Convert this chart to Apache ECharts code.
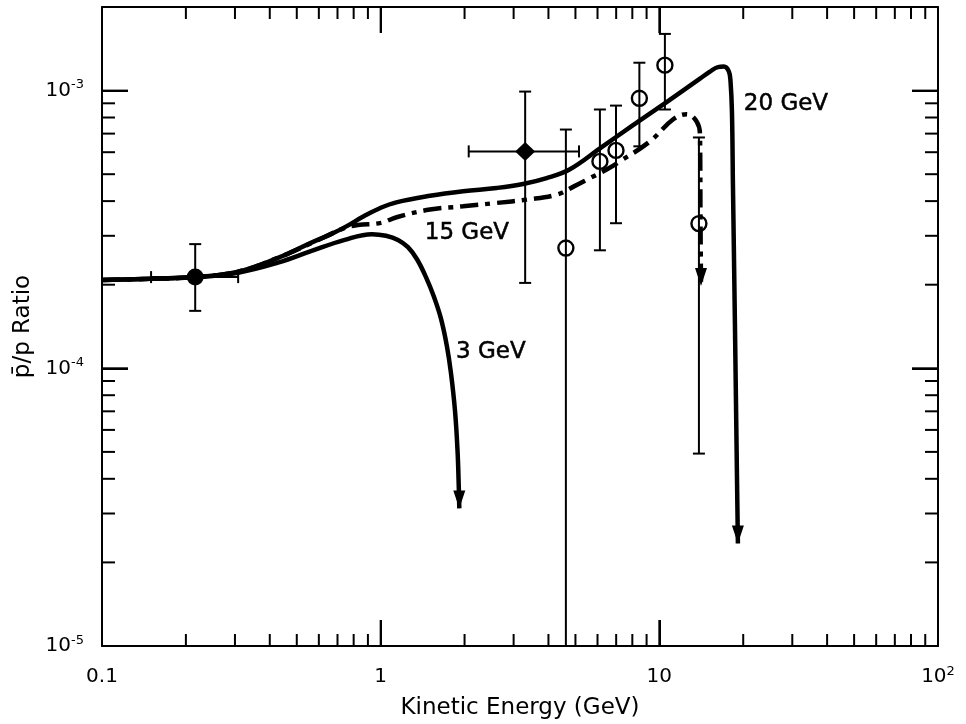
<!DOCTYPE html>
<html lang="en">
<head>
<meta charset="UTF-8">
<title>pbar/p ratio</title>
<script src="https://cdn.jsdelivr.net/npm/echarts@6.0.0/dist/echarts.min.js"></script>
<style>
  html, body { margin: 0; padding: 0; background: #fff; }
  #main { width: 966px; height: 724px; }
</style>
</head>
<body>
<div id="main"></div>
<script>
// axis range
const xMin = 0.1, xMax = 100;
const yMin = 1e-5, yMax = 2e-3;

// model curves: kinetic energy (GeV) and pbar/p ratio
const e20 = [0.1, 0.149, 0.216, 0.308, 0.428, 0.562, 0.658, 0.756, 0.866, 0.993, 1.138, 1.503, 1.977, 2.608, 3.245, 3.94, 4.76, 6.12, 8.00, 10.62, 13.99, 15.19, 16.23, 17.05, 17.77, 18.01, 18.22, 18.37, 18.67, 18.98, 19.14];
const r20 = [2.08e-4, 2.10e-4, 2.13e-4, 2.23e-4, 2.50e-4, 2.83e-4, 3.03e-4, 3.25e-4, 3.52e-4, 3.77e-4, 3.96e-4, 4.18e-4, 4.34e-4, 4.46e-4, 4.61e-4, 4.84e-4, 5.20e-4, 6.19e-4, 7.48e-4, 9.09e-4, 1.104e-3, 1.17e-3, 1.215e-3, 1.22e-3, 1.17e-3, 1.077e-3, 8.41e-4, 4.60e-4, 1.48e-4, 4.29e-5, 2.34e-5];

const e15 = [0.1, 0.149, 0.216, 0.308, 0.428, 0.562, 0.743, 0.829, 1.002, 1.141, 1.503, 1.974, 2.608, 3.34, 4.28, 4.94, 5.64, 6.47, 7.22, 9.25, 11.19, 12.53, 13.61, 13.99, 14.05, 14.11];
const r15 = [2.08e-4, 2.10e-4, 2.13e-4, 2.23e-4, 2.50e-4, 2.82e-4, 3.20e-4, 3.28e-4, 3.34e-4, 3.50e-4, 3.73e-4, 3.83e-4, 3.94e-4, 4.05e-4, 4.22e-4, 4.52e-4, 4.84e-4, 5.20e-4, 5.56e-4, 6.56e-4, 7.87e-4, 8.22e-4, 7.74e-4, 6.95e-4, 3.48e-4, 1.98e-4];

const e3 = [0.1, 0.149, 0.216, 0.308, 0.428, 0.562, 0.743, 0.931, 1.045, 1.154, 1.253, 1.350, 1.454, 1.553, 1.646, 1.729, 1.787, 1.848, 1.887, 1.906, 1.915];
const r3 = [2.08e-4, 2.10e-4, 2.13e-4, 2.21e-4, 2.40e-4, 2.64e-4, 2.90e-4, 3.04e-4, 3.00e-4, 2.90e-4, 2.73e-4, 2.47e-4, 2.13e-4, 1.81e-4, 1.51e-4, 1.20e-4, 9.63e-5, 7.04e-5, 5.06e-5, 3.79e-5, 3.13e-5];

// measurements
const ptKind = ['dot', 'diamond', 'ring', 'ring', 'ring', 'ring', 'ring', 'ring'];
const ptE   = [0.216, 3.30, 4.62, 6.12, 6.99, 8.48, 10.47, 13.87];
const ptR   = [2.13e-4, 6.04e-4, 2.71e-4, 5.56e-4, 6.09e-4, 9.38e-4, 1.235e-3, 3.32e-4];
const ptRLo = [1.61e-4, 2.03e-4, 1e-5, 2.66e-4, 3.33e-4, 6.30e-4, 8.55e-4, 4.93e-5];
const ptRHi = [2.80e-4, 9.92e-4, 7.24e-4, 8.55e-4, 8.83e-4, 1.26e-3, 1.60e-3, 6.78e-4];
const ptELo = [0.150, 2.07, null, null, null, null, null, null];
const ptEHi = [0.308, 5.15, null, null, null, null, null, null];

// curve labels
const labelText = ['20 GeV', '15 GeV', '3 GeV'];
const labelE = [20.1, 1.44, 1.863];
const labelR = [8.98e-4, 3.07e-4, 1.14e-4];

const FONT = 'DejaVu Sans';
const black = '#000';

// tick positions: decades get long ticks, 2..9 get short ones
const xMajor = [1, 10], yMajor = [1e-4, 1e-3];
const xMinor = [], yMinor = [];
for (let k = -1; k < 2; k++) for (let m = 2; m <= 9; m++) xMinor.push(+(m * Math.pow(10, k)).toPrecision(3));
for (let k = -5; k < -3; k++) for (let m = 2; m <= 9; m++) yMinor.push(+(m * Math.pow(10, k)).toPrecision(3));

function pow10Label(v, plainSmall) {
  const e = Math.round(Math.log10(v));
  if (Math.abs(v / Math.pow(10, e) - 1) > 1e-6) return '';
  if (plainSmall && e === -1) return '0.1';
  if (plainSmall && e === 0) return '1';
  if (plainSmall && e === 1) return '10';
  return '{b|10}{sup|' + e + '}';
}

const richLabel = {
  b: { fontSize: 20, lineHeight: 24, fontFamily: FONT, color: black },
  sup: { fontSize: 13, lineHeight: 24, verticalAlign: 'top', fontFamily: FONT, color: black }
};

function axisBase(type) {
  return {
    type: 'log', logBase: 10,
    min: type === 'x' ? xMin : yMin,
    max: type === 'x' ? xMax : yMax,
    splitLine: { show: false },
    axisLine: { show: true, lineStyle: { color: black, width: 2 } },
    axisTick: { show: true, inside: true, length: 26, lineStyle: { color: black, width: 2 } },
    minorTick: { show: false }
  };
}

// ticks drawn on both opposite sides of the frame
function frameTicks(isX, len) {
  return function (params, api) {
    const cs = params.coordSys;
    const v = api.value(isX ? 0 : 1);
    const p = api.coord(isX ? [v, 1e-4] : [1, v]);
    const st = { stroke: black, lineWidth: 2 };
    if (isX) {
      return { type: 'group', children: [
        { type: 'line', shape: { x1: p[0], y1: cs.y + cs.height, x2: p[0], y2: cs.y + cs.height - len }, style: st },
        { type: 'line', shape: { x1: p[0], y1: cs.y, x2: p[0], y2: cs.y + len }, style: st }
      ] };
    }
    return { type: 'group', children: [
      { type: 'line', shape: { x1: cs.x, y1: p[1], x2: cs.x + len, y2: p[1] }, style: st },
      { type: 'line', shape: { x1: cs.x + cs.width, y1: p[1], x2: cs.x + cs.width - len, y2: p[1] }, style: st }
    ] };
  };
}

function errorBars(params, api) {
  const x = api.value(0), y = api.value(1);
  const yLo = api.value(2), yHi = api.value(3);
  const xLo = api.value(4), xHi = api.value(5);
  const st = { stroke: black, lineWidth: 2 };
  const cap = 6;
  const a = api.coord([x, yLo]), b = api.coord([x, yHi]);
  const kids = [
    { type: 'line', shape: { x1: a[0], y1: a[1], x2: b[0], y2: b[1] }, style: st },
    { type: 'line', shape: { x1: a[0] - cap, y1: a[1], x2: a[0] + cap, y2: a[1] }, style: st },
    { type: 'line', shape: { x1: b[0] - cap, y1: b[1], x2: b[0] + cap, y2: b[1] }, style: st }
  ];
  if (!isNaN(xLo) && !isNaN(xHi)) {
    const c = api.coord([xLo, y]), d = api.coord([xHi, y]);
    kids.push({ type: 'line', shape: { x1: c[0], y1: c[1], x2: d[0], y2: d[1] }, style: st });
    kids.push({ type: 'line', shape: { x1: c[0], y1: c[1] - cap, x2: c[0], y2: c[1] + cap }, style: st });
    kids.push({ type: 'line', shape: { x1: d[0], y1: d[1] - cap, x2: d[0], y2: d[1] + cap }, style: st });
  }
  return { type: 'group', children: kids };
}

function curve(xs, ys, dashed) {
  return {
    type: 'line', silent: true, symbol: 'none', smooth: 0.4, z: 3,
    data: xs.map((x, i) => [x, ys[i]]),
    lineStyle: { color: black, width: 4.5, opacity: 1, type: dashed ? [18, 7, 5, 7] : 'solid', cap: 'butt' }
  };
}

function pick(kind) {
  const out = [];
  ptKind.forEach((k, i) => { if (k === kind) out.push([ptE[i], ptR[i]]); });
  return out;
}

const arrowTips = [
  [e20[e20.length - 1], r20[r20.length - 1]],
  [e15[e15.length - 1], r15[r15.length - 1]],
  [e3[e3.length - 1], r3[r3.length - 1]]
];

const nameStyle = { fontSize: 23, fontFamily: FONT, color: black };

const chart = echarts.init(document.getElementById('main'), null, { renderer: 'canvas' });
chart.setOption({
  animation: false,
  backgroundColor: '#fff',
  grid: { left: 102, right: 28, top: 7, bottom: 78, containLabel: false, outerBoundsMode: 'none' },
  xAxis: [
    Object.assign(axisBase('x'), {
      position: 'bottom',
      name: 'Kinetic Energy (GeV)', nameLocation: 'middle', nameGap: 51,
      nameTextStyle: nameStyle,
      axisLabel: { margin: 19, fontSize: 20, lineHeight: 24, fontFamily: FONT, color: black,
        formatter: v => pow10Label(v, true), rich: richLabel }
    }),
    Object.assign(axisBase('x'), { position: 'top', axisLabel: { show: false } })
  ],
  yAxis: [
    Object.assign(axisBase('y'), {
      position: 'left',
      name: 'p\u0304/p Ratio', nameLocation: 'middle', nameGap: 57, nameRotate: 90,
      nameTextStyle: nameStyle,
      axisLabel: { margin: 18, fontSize: 20, lineHeight: 24, fontFamily: FONT, color: black,
        formatter: v => pow10Label(v, false), rich: richLabel }
    }),
    Object.assign(axisBase('y'), { position: 'right', axisLabel: { show: false } })
  ],
  series: [
    { type: 'custom', silent: true, renderItem: frameTicks(true, 26), data: xMajor.map(v => [v, 1e-4]), z: 5 },
    { type: 'custom', silent: true, renderItem: frameTicks(false, 26), data: yMajor.map(v => [1, v]), z: 5 },
    { type: 'custom', silent: true, renderItem: frameTicks(true, 12), data: xMinor.map(v => [v, 1e-4]), z: 5 },
    { type: 'custom', silent: true, renderItem: frameTicks(false, 13), data: yMinor.map(v => [1, v]), z: 5 },
    curve(e20, r20, false),
    curve(e15, r15, true),
    curve(e3, r3, false),
    {
      type: 'scatter', silent: true, z: 4,
      data: arrowTips,
      symbol: 'path://M0,0 L10,0 L5,18 Z', symbolSize: [12, 18], symbolOffset: [0, -9],
      itemStyle: { color: black, opacity: 1 }
    },
    {
      type: 'custom', silent: true, z: 6, renderItem: errorBars,
      encode: { x: 0, y: 1 },
      data: ptE.map((e, i) => [e, ptR[i], ptRLo[i], ptRHi[i], ptELo[i], ptEHi[i]])
    },
    { type: 'scatter', silent: true, z: 7, data: pick('dot'), symbol: 'circle', symbolSize: 17,
      itemStyle: { color: black, opacity: 1 } },
    { type: 'scatter', silent: true, z: 7, data: pick('diamond'), symbol: 'diamond', symbolSize: [20, 19],
      itemStyle: { color: black, opacity: 1 } },
    { type: 'scatter', silent: true, z: 7, data: pick('ring'), symbol: 'circle', symbolSize: 15,
      itemStyle: { color: 'rgba(0,0,0,0)', borderColor: black, borderWidth: 2.4, opacity: 1 } },
    {
      type: 'scatter', silent: true, z: 8, symbolSize: 0,
      data: labelE.map((e, i) => [e, labelR[i]]),
      itemStyle: { opacity: 1 },
      label: { show: true, position: 'right', distance: 0, fontSize: 23, fontFamily: FONT, color: black,
        textBorderColor: black, textBorderWidth: 0.5,
        formatter: p => labelText[p.dataIndex] }
    }
  ]
});
</script>
</body>
</html>
